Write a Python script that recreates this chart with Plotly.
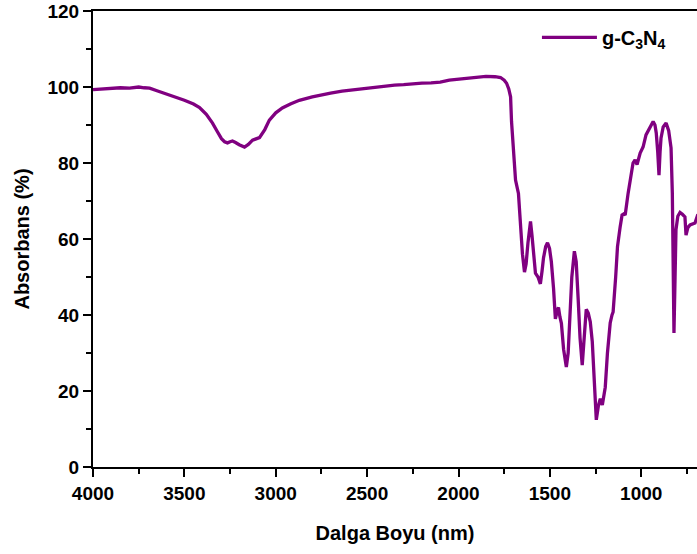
import plotly.graph_objects as go

wavenumber = [4000, 3950, 3900, 3850, 3800, 3750, 3720, 3690, 3650, 3600, 3550, 3500, 3450, 3417,
              3380, 3346, 3320, 3297, 3280, 3264, 3250, 3237, 3220, 3200, 3171, 3150, 3127, 3110,
              3089, 3060, 3035, 3000, 2964, 2920, 2871, 2800, 2746, 2700, 2637, 2600, 2550, 2500,
              2450, 2400, 2350, 2300, 2250, 2200, 2150, 2100, 2050, 2000, 1950, 1900, 1850, 1800,
              1770, 1750, 1737, 1725, 1715, 1710, 1700, 1688, 1672, 1660, 1650, 1639, 1630, 1620,
              1606, 1598, 1590, 1579, 1565, 1552, 1543, 1535, 1523, 1513, 1502, 1492, 1480, 1470,
              1460, 1453, 1445, 1437, 1425, 1410, 1400, 1390, 1380, 1366, 1356, 1345, 1335, 1323,
              1313, 1301, 1290, 1279, 1268, 1257, 1246, 1235, 1224, 1213, 1197, 1185, 1170, 1160,
              1154, 1140, 1130, 1116, 1105, 1095, 1088, 1072, 1055, 1045, 1034, 1023, 1006, 990,
              974, 955, 935, 925, 918, 910, 903, 897, 892, 880, 864, 850, 837, 830, 825, 821, 815,
              810, 800, 788, 775, 761, 755, 745, 733, 720, 706, 690]

absorbance = [99.3, 99.5, 99.6, 99.8, 99.7, 100.0, 99.8, 99.7, 99.0, 98.2, 97.3, 96.5, 95.5, 94.6,
              92.8, 90.5, 88.3, 86.4, 85.6, 85.3, 85.6, 85.8, 85.4, 84.8, 84.2, 84.9, 86.0, 86.4,
              86.7, 88.8, 91.3, 93.2, 94.5, 95.5, 96.5, 97.4, 98.0, 98.4, 98.9, 99.1, 99.3, 99.6,
              100.0, 100.3, 100.5, 100.6, 100.9, 101.0, 101.1, 101.3, 101.8, 102.0, 102.3, 102.5, 102.8, 102.7,
              102.5, 101.8, 101.0, 99.5, 97.4, 91.0, 84.0, 75.5, 72.0, 63.0, 56.0, 51.3, 53.5, 59.0,
              64.6, 61.0, 57.0, 51.0, 50.0, 48.2, 51.5, 55.0, 58.0, 59.0, 57.5, 54.0, 47.0, 39.0,
              41.0, 42.0, 39.5, 37.8, 31.0, 26.3, 30.0, 40.0, 50.0, 56.8, 54.0, 44.0, 34.0, 26.8,
              35.0, 41.5, 40.5, 38.2, 33.0, 24.0, 12.4, 16.0, 18.0, 16.3, 21.0, 30.0, 37.9, 40.0,
              40.8, 50.0, 58.0, 63.0, 66.3, 66.6, 66.3, 72.0, 78.0, 80.0, 80.8, 79.6, 82.6, 84.2,
              87.4, 89.0, 90.9, 90.0, 87.9, 83.0, 76.8, 83.0, 86.5, 89.5, 90.5, 88.5, 84.0, 72.0, 55.0, 35.3, 50.0,
              62.4, 66.0, 67.0, 66.5, 65.8, 61.0, 63.0, 63.7, 64.0, 64.2, 66.5]

x_ticks = [4000, 3500, 3000, 2500, 2000, 1500, 1000]
y_ticks = [0, 20, 40, 60, 80, 100, 120]

FONT = "Arial, Liberation Sans, sans-serif"

fig = go.Figure()
fig.add_trace(go.Scatter(
    x=wavenumber, y=absorbance, mode="lines",
    name="g-C<sub>3</sub>N<sub>4</sub>",
    line=dict(color="#800080", width=3.3),
))

fig.update_layout(
    width=697, height=554,
    margin=dict(l=93, r=0, t=11, b=87, autoexpand=False),
    paper_bgcolor="white", plot_bgcolor="white",
    font=dict(family=FONT, color="black"),
    showlegend=True,
    legend=dict(x=0.735, y=0.985, xanchor="left", yanchor="top",
                bgcolor="rgba(0,0,0,0)", itemwidth=55,
                font=dict(size=20, weight="bold", family=FONT)),
    xaxis=dict(
        range=[4000, 695], tickvals=x_ticks,
        showgrid=False, zeroline=False,
        showline=True, linecolor="black", linewidth=2, mirror=True,
        ticks="outside", ticklen=8, tickwidth=2, tickcolor="black",
        minor=dict(ticks="outside", ticklen=5, tickwidth=2, tickcolor="black", dtick=250, showgrid=False),
        tickfont=dict(size=19, weight="bold", family=FONT),
        title=dict(text="Dalga Boyu (nm)", font=dict(size=20, weight="bold", family=FONT), standoff=23),
    ),
    yaxis=dict(
        range=[0, 120], tickvals=y_ticks,
        showgrid=False, zeroline=False,
        showline=True, linecolor="black", linewidth=2,
        ticks="outside", ticklen=8, tickwidth=2, tickcolor="black",
        minor=dict(ticks="outside", ticklen=5, tickwidth=2, tickcolor="black", dtick=10, showgrid=False),
        tickfont=dict(size=19, weight="bold", family=FONT),
        title=dict(text="Absorbans (%)", font=dict(size=20, weight="bold", family=FONT), standoff=12),
    ),
)

fig.write_html("out.html", config={"displayModeBar": False},
               post_script="document.body.style.margin='0';")
